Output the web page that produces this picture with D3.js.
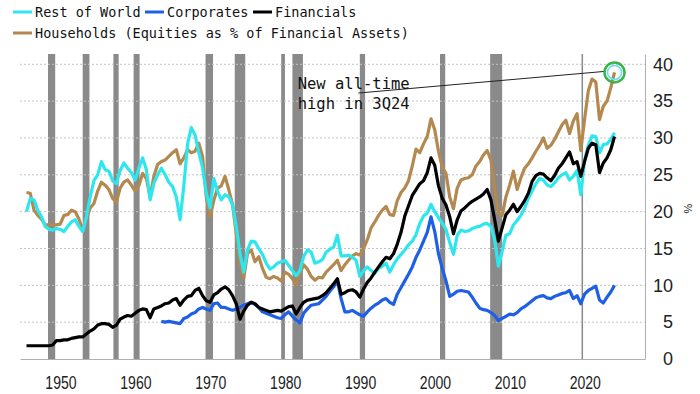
<!DOCTYPE html>
<html>
<head>
<meta charset="utf-8">
<script src="https://cdn.jsdelivr.net/npm/d3@7"></script>
<style>
  body { margin: 0; background: #fff; }
  svg { display: block; }
</style>
</head>
<body>
<svg id="chart" width="700" height="394"></svg>
<script>
// Half-year observations, 1946.0 .. 2024.5
const years = d3.range(1946, 2024.51, 0.5);

const households = [
  22.6, 22.5, 20.2, 19.5, 19.0, 18.2, 18.2, 18.2,
  18.2, 18.3, 19.5, 19.6, 20.2, 20.0, 19.0, 17.5, 19.0, 20.5, 21.1, 22.8, 24.0, 23.6, 23.0, 21.8, 21.3, 23.2, 24.0, 24.3,
  23.6, 22.8, 23.5, 25.2, 24.5, 22.0, 24.8, 26.4, 26.8, 27.0, 27.5, 28.0, 28.4, 26.5, 27.3, 28.4, 28.0, 28.2, 29.3, 27.5,
  22.0, 19.3, 21.5, 23.2, 23.5, 24.8, 23.0, 21.0, 17.0, 13.0, 11.0, 14.3, 14.8, 13.2, 13.9, 12.3, 11.1, 10.9, 11.2, 11.0,
  10.6, 11.8, 11.5, 10.9, 10.0, 11.6, 12.8, 12.2, 11.2, 10.7, 11.1, 11.0, 11.8, 12.3, 12.8, 13.4, 12.0, 12.8, 13.4, 14.0,
  14.3, 14.1, 15.0, 16.2, 17.8, 18.6, 19.5, 20.2, 20.7, 19.6, 19.5, 21.5, 22.6, 23.2, 24.2, 26.2, 28.5, 28.0, 29.2, 30.2,
  32.6, 31.1, 28.2, 26.0, 25.2, 22.0, 20.4, 23.2, 24.3, 24.5, 24.6, 25.0, 26.2, 26.8, 27.7, 28.3, 27.0, 23.0, 19.8, 19.5,
  22.0, 23.6, 25.5, 23.0, 24.6, 25.9, 26.5, 27.3, 28.2, 29.0, 30.0, 28.6, 29.0, 29.8, 30.8, 31.8, 32.4, 30.6, 32.3, 33.3,
  28.3, 32.5, 36.4, 38.0, 37.6, 32.5, 34.3, 35.0, 36.8, 38.9
];

const restOfWorld = [
  20.0, 21.8, 21.6, 20.2, 19.3, 18.0, 17.6, 17.5,
  17.7, 17.6, 17.3, 18.0, 18.6, 18.9, 18.0, 17.3, 19.3, 22.0, 24.2, 25.0, 26.8, 25.7, 25.5, 24.2, 23.8, 25.6, 26.6, 25.9,
  25.3, 24.3, 25.9, 27.3, 25.7, 21.6, 23.8, 25.0, 25.9, 25.0, 24.0, 23.4, 22.0, 18.9, 23.5, 29.2, 31.4, 30.4, 28.0, 26.0,
  22.5, 20.5, 24.5, 22.8, 21.6, 22.3, 22.0, 21.0, 18.0, 14.3, 11.8, 14.8, 16.0, 15.9, 15.0, 14.2, 13.0, 12.2, 12.5, 13.0,
  13.2, 13.4, 12.7, 12.0, 11.3, 12.0, 13.9, 14.8, 14.5, 13.0, 13.2, 13.5, 14.5, 14.9, 15.2, 16.8, 14.0, 14.0, 14.1, 13.8,
  13.4, 11.2, 12.0, 12.5, 12.0, 11.6, 12.3, 12.6, 13.0, 11.8, 12.8, 13.6, 14.2, 14.8, 15.5, 16.0, 16.9, 18.4, 19.4, 19.8,
  21.0, 20.0, 19.2, 18.4, 17.6, 15.8, 14.2, 16.8, 17.5, 17.3, 17.4, 17.7, 17.9, 18.0, 18.3, 18.4, 18.0, 16.2, 12.6, 14.6,
  16.8, 17.0, 18.2, 18.8, 19.5, 20.5, 21.8, 22.8, 23.8, 24.5, 24.3, 23.6, 23.4, 23.9, 24.6, 25.0, 25.3, 24.3, 24.8, 25.6,
  22.3, 27.0, 29.0, 30.3, 30.2, 28.0, 29.1, 29.2, 29.8, 30.7
];

const financials = [
  1.8, 1.8, 1.8, 1.8, 1.8, 1.8, 1.8, 1.9,
  2.5, 2.5, 2.6, 2.6, 2.8, 2.9, 3.0, 3.0, 3.4, 3.8, 4.1, 4.6, 4.8, 4.8, 4.7, 4.3, 4.6, 5.4, 5.7, 5.9,
  5.8, 6.2, 6.6, 6.8, 6.7, 5.6, 6.8, 7.0, 7.2, 7.5, 7.6, 8.0, 8.2, 7.3, 8.0, 8.5, 8.6, 9.3, 9.6, 8.6,
  7.9, 7.7, 8.7, 9.0, 9.5, 9.8, 9.4, 8.6, 7.5, 5.4, 6.5, 7.3, 7.7, 7.5, 7.0, 6.8, 6.6, 6.4, 6.5, 6.6,
  6.5, 6.8, 7.1, 7.2, 6.1, 7.0, 7.7, 8.0, 8.1, 8.2, 8.3, 8.6, 9.0, 9.6, 10.2, 10.9, 8.8, 9.0, 9.3, 9.4,
  9.1, 8.4, 9.5, 10.4, 11.0, 11.8, 12.5, 13.2, 13.8, 13.6, 14.3, 15.6, 17.2, 19.4, 20.8, 22.2, 23.0, 23.8, 24.2, 25.3,
  27.3, 26.3, 23.5, 21.8, 20.9, 19.3, 17.0, 18.9, 20.1, 20.5, 21.0, 21.4, 21.7, 22.0, 22.4, 23.0, 21.6, 18.9, 16.0, 17.8,
  19.6, 20.2, 21.0, 20.0, 20.7, 21.5, 22.5, 24.1, 24.9, 25.2, 25.1, 24.6, 24.2, 24.9, 25.9, 26.5, 27.3, 28.1, 26.5, 26.8,
  24.8, 26.8, 28.6, 29.3, 29.1, 25.3, 26.6, 27.3, 28.4, 30.2
];

// Corporates series begins in 1964
const corporates = [
  null, null, null, null, null, null, null, null,
  null, null, null, null, null, null, null, null, null, null, null, null, null, null, null, null, null, null, null, null,
  null, null, null, null, null, null, null, null, 5.1, 5.0, 5.1, 5.0, 4.9, 4.8, 5.5, 5.7, 6.1, 6.3, 6.8, 7.0,
  6.8, 6.6, 7.5, 7.6, 7.0, 7.0, 6.8, 6.6, 6.8, 7.0, 7.3, 7.5, 7.7, 7.4, 7.0, 6.4, 6.2, 6.0, 5.8, 5.6,
  5.5, 6.0, 6.4, 5.8, 5.3, 4.9, 6.2, 6.8, 7.3, 7.4, 7.5, 8.0, 8.5, 9.2, 9.8, 10.6, 8.2, 6.4, 6.4, 6.6,
  6.3, 6.0, 5.8, 6.4, 6.9, 7.3, 7.6, 8.0, 8.2, 7.7, 7.4, 8.8, 9.7, 10.6, 11.5, 12.5, 13.8, 14.8, 16.0, 17.2,
  19.3, 17.3, 14.3, 12.3, 10.6, 8.5, 8.8, 9.2, 9.3, 9.2, 9.1, 8.4, 7.6, 6.9, 6.7, 6.6, 6.3, 5.9, 5.2, 5.5,
  5.8, 6.1, 6.0, 6.3, 6.8, 7.1, 7.5, 7.9, 8.3, 8.5, 8.6, 8.3, 8.2, 8.5, 8.7, 8.9, 9.0, 9.3, 8.2, 8.6,
  7.5, 8.8, 9.3, 9.6, 9.9, 8.0, 7.6, 8.4, 9.1, 10.0
];

// Recession periods (decimal years)
const recStart = [1948.87, 1953.5, 1957.6, 1960.3, 1969.9, 1973.8, 1980.0, 1981.5, 1990.5, 2001.2, 2007.9, 2020.1];
const recEnd   = [1949.83, 1954.4, 1958.3, 1961.1, 1970.9, 1975.2, 1980.5, 1982.9, 1991.2, 2001.9, 2009.5, 2020.3];

const xTicks = [1950, 1960, 1970, 1980, 1990, 2000, 2010, 2020];
const yTicks = [0, 5, 10, 15, 20, 25, 30, 35, 40];

const seriesNames = ["Rest of World", "Corporates", "Financials", "Households (Equities as % of Financial Assets)"];
const seriesColors = ["#2ee6ee", "#1f5fe6", "#000000", "#b4894f"];

const svg = d3.select("#chart");
const plotLeft = 20, plotRight = 645, plotTop = 54, plotBottom = 359;

const x = d3.scaleLinear().domain([1945.13, 2028.57]).range([plotLeft, plotRight]);
const y = d3.scaleLinear().domain([0, 41.4]).range([plotBottom, plotTop]);

// Recession shading
svg.append("g").selectAll("rect").data(recStart).enter().append("rect")
  .attr("x", d => x(d))
  .attr("width", (d, i) => Math.max(1.5, x(recEnd[i]) - x(d)))
  .attr("y", plotTop)
  .attr("height", plotBottom - plotTop)
  .attr("fill", "#8a8a8a");

// Dotted grid
svg.append("g").selectAll("line").data(yTicks.filter(d => d > 0)).enter().append("line")
  .attr("x1", plotLeft).attr("x2", plotRight)
  .attr("y1", d => y(d)).attr("y2", d => y(d))
  .attr("stroke", "#c4c4c4")
  .attr("stroke-dasharray", "2,2");

// Axes
const xAxis = svg.append("g")
  .attr("transform", `translate(0,${plotBottom})`)
  .call(d3.axisBottom(x).tickValues(xTicks).tickSize(0).tickFormat(d3.format("d")));
xAxis.select(".domain").attr("stroke", "#b0b0b0");
// condensed look for the year labels
xAxis.selectAll(".tick text")
  .attr("dy", 0)
  .attr("y", 0)
  .attr("transform", "translate(4,30) scale(0.76,1)")
  .attr("font-family", "'Liberation Sans', sans-serif")
  .attr("font-size", 18.5)
  .attr("fill", "#222");

const yAxis = svg.append("g")
  .attr("transform", `translate(${plotRight},0)`)
  .call(d3.axisRight(y).tickValues(yTicks).tickSize(0));
yAxis.select(".domain").attr("stroke", "#b0b0b0");
yAxis.selectAll("text")
  .attr("x", 28)
  .attr("text-anchor", "end")
  .attr("font-family", "'Liberation Sans', sans-serif")
  .attr("font-size", 18)
  .attr("fill", "#222");

svg.append("text")
  .attr("transform", `translate(${plotRight + 39},${y(20) - 3}) rotate(90)`)
  .attr("text-anchor", "middle")
  .attr("font-family", "'Liberation Sans', sans-serif")
  .attr("font-size", 11)
  .attr("fill", "#222")
  .text("%");

// Lines: households, rest of world, corporates, financials (drawing order)
const line = d3.line()
  .defined(d => d[1] != null)
  .x(d => x(d[0]))
  .y(d => y(d[1]));

const drawOrder = [
  [households, seriesColors[3]],
  [restOfWorld, seriesColors[0]],
  [corporates, seriesColors[1]],
  [financials, seriesColors[2]]
];
drawOrder.forEach(([vals, color]) => {
  svg.append("path")
    .datum(years.map((yr, i) => [yr, vals[i]]))
    .attr("d", line)
    .attr("fill", "none")
    .attr("stroke", color)
    .attr("stroke-width", 3.2)
    .attr("stroke-linejoin", "round");
});

// Annotation for the latest households value
const lastYear = years[years.length - 1];
const lastVal = households[households.length - 1];
const mono = "'DejaVu Sans Mono', 'Liberation Mono', monospace";

svg.append("line")
  .attr("x1", x(1990.3)).attr("y1", y(36.1))
  .attr("x2", x(lastYear) - 10).attr("y2", y(lastVal) - 1)
  .attr("stroke", "#222").attr("stroke-width", 1);

svg.append("circle")
  .attr("cx", x(lastYear)).attr("cy", y(lastVal))
  .attr("r", 7).attr("fill", "none")
  .attr("stroke", "#5fe3ee").attr("stroke-width", 1.5);
svg.append("circle")
  .attr("cx", x(lastYear)).attr("cy", y(lastVal))
  .attr("r", 10).attr("fill", "none")
  .attr("stroke", "#3db34a").attr("stroke-width", 2.5);

const note = svg.append("text")
  .attr("font-family", mono)
  .attr("font-size", 15.5)
  .attr("fill", "#111");
note.append("tspan").attr("x", x(1982.2)).attr("y", y(36.7)).text("New all-time");
note.append("tspan").attr("x", x(1982.2)).attr("y", y(34.0)).text("high in 3Q24");

// Legend
const legendPos = [[13, 12], [145, 12], [253, 12], [13, 33]];
legendPos.forEach(([lx, ly], i) => {
  const g = svg.append("g");
  g.append("line")
    .attr("x1", lx).attr("x2", lx + 19)
    .attr("y1", ly).attr("y2", ly)
    .attr("stroke", seriesColors[i]).attr("stroke-width", 3);
  g.append("text")
    .attr("x", lx + 22).attr("y", ly + 5)
    .attr("font-family", mono)
    .attr("font-size", 13.5)
    .attr("fill", "#111")
    .text(seriesNames[i]);
});
</script>
</body>
</html>
